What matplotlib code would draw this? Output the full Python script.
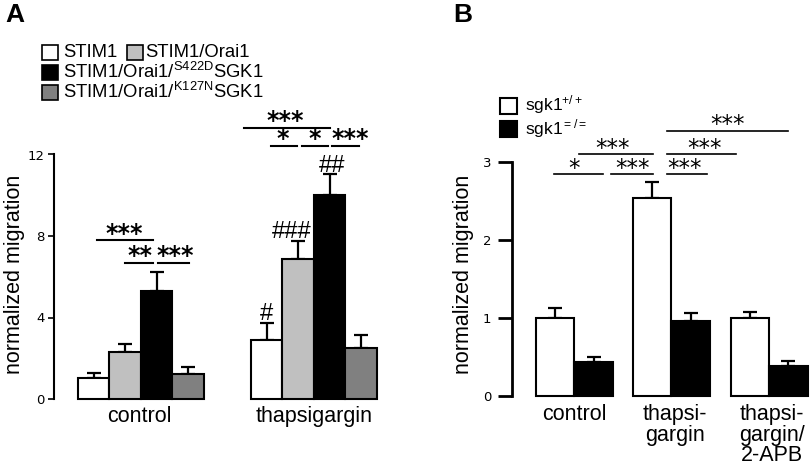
import matplotlib
matplotlib.use("Agg")
import matplotlib.pyplot as plt
import matplotlib.patches as patches
import numpy as np

plt.rcParams['font.family'] = ['Liberation Sans', 'DejaVu Sans']
plt.rcParams['mathtext.fontset'] = 'custom'
plt.rcParams['mathtext.rm'] = 'Liberation Sans'
plt.rcParams['mathtext.it'] = 'Liberation Sans'

# ---- datos panel A ----
grupos_a = ["control", "thapsigargin"]
series_a = ["STIM1", "STIM1/Orai1",
            "STIM1/Orai1/$^{\\mathrm{S422D}}$SGK1",
            "STIM1/Orai1/$^{\\mathrm{K127N}}$SGK1"]
colores_a = ["white", "#c0c0c0", "black", "#808080"]
media_control = [1.03, 2.32, 5.3, 1.22]
sem_control = [0.24, 0.38, 0.94, 0.36]
media_thapsi = [2.92, 6.86, 10.0, 2.49]
sem_thapsi = [0.82, 0.88, 1.06, 0.64]
hash_thapsi = ["#", "###", "##", ""]

# ---- datos panel B ----
grupos_b = ["control", "thapsi-\ngargin", "thapsi-\ngargin/\n2-APB"]
series_b = ["sgk1$^{+/+}$", "sgk1$^{=/=}$"]
media_wt = [1.0, 2.54, 1.0]
sem_wt = [0.13, 0.20, 0.08]
media_ko = [0.43, 0.96, 0.38]
sem_ko = [0.07, 0.10, 0.07]

W, H = 811, 465
fig = plt.figure(figsize=(W / 100, H / 100), dpi=100)


def px(x, y):
    # pixel (desde arriba) -> fraccion de figura
    return x / W, 1 - y / H


# ================= Panel A =================
axA = fig.add_axes([54 / W, (H - 399) / H, 346.5 / W, 244.5 / H])
inicio_a = [0.76, 6.25]
medias = [media_control, media_thapsi]
sems = [sem_control, sem_thapsi]
for g in range(2):
    xs = inicio_a[g] + 0.5 + np.arange(4)
    bars = axA.bar(xs, medias[g], width=1.0, color=colores_a,
                   edgecolor="black", linewidth=1.5, zorder=2)
    for b in bars:
        b.set_clip_on(False)
    axA.errorbar(xs, medias[g], yerr=[np.zeros(4), sems[g]], fmt="none",
                 ecolor="black", elinewidth=1.6, capsize=5, capthick=1.6,
                 zorder=1)

axA.set_xlim(0, 11)
axA.set_ylim(0, 12)
axA.set_yticks([0, 4, 8, 12])
axA.set_xticks([inicio_a[0] + 1.95, inicio_a[1] + 2])
axA.set_xticklabels(grupos_a, fontsize=15.5)
axA.tick_params(axis="x", length=0, pad=5)
axA.tick_params(axis="y", length=4, width=1.2, labelsize=9.5, pad=3)
for lab in axA.get_yticklabels():
    lab.set_fontfamily("DejaVu Sans")
for s in ["top", "right", "bottom"]:
    axA.spines[s].set_visible(False)
axA.spines["left"].set_linewidth(1.5)
axA.spines["left"].set_bounds(0, 12)
axA.set_ylabel("normalized migration", fontsize=15.5, va="center")
axA.yaxis.set_label_coords(-0.115, 0.51)

# hashes
hash_x = [6.76, 7.55, 8.83]
hash_y = [3.88, 7.9, 11.14]
for t, hx, hy in zip(hash_thapsi, hash_x, hash_y):
    axA.text(hx, hy, t, ha="center", va="baseline", fontsize=17,
             clip_on=False)

# significancias
sig_a = [(1.37, 3.14, 7.79, "***", 2.22),
         (2.25, 3.14, 6.69, "**", 2.73),
         (3.30, 4.29, 6.69, "***", 3.86),
         (6.03, 8.76, 13.32, "***", 7.33),
         (6.89, 7.71, 12.43, "*", 7.26),
         (7.87, 8.70, 12.43, "*", 8.29),
         (8.83, 9.68, 12.43, "***", 9.40)]
for x0, x1, y, t, tx in sig_a:
    axA.plot([x0, x1], [y, y], color="black", lw=1.5, clip_on=False)
    axA.annotate(t, xy=(tx, y), xytext=(0, -0.5), textcoords="offset points",
                 ha="center", va="baseline", fontsize=17, fontweight="bold",
                 fontfamily="DejaVu Sans", annotation_clip=False)

# leyenda A
ley_a = [(41.5, 45, 63, 57), (126.5, 45, 145, 57),
         (41.5, 65, 63, 78), (41.5, 85.5, 63, 98.5)]
for (sx, sy, tx, ty), col, nom in zip(ley_a, colores_a, series_a):
    x0, y0 = px(sx, sy + 15)
    fig.add_artist(patches.Rectangle((x0, y0), 16 / W, 15 / H,
                                     transform=fig.transFigure,
                                     facecolor=col, edgecolor="black",
                                     linewidth=1.2))
    fx, fy = px(tx, ty)
    fig.text(fx, fy, nom, fontsize=13.3, ha="left", va="baseline")

# ================= Panel B =================
axB = fig.add_axes([512 / W, (H - 396) / H, 298.4 / W, 234 / H])
inicio_b = [0.62, 3.14, 5.68]
xs_wt = np.array(inicio_b) + 0.5
xs_ko = np.array(inicio_b) + 1.5
for xs, m, e, col in [(xs_wt, media_wt, sem_wt, "white"),
                      (xs_ko, media_ko, sem_ko, "black")]:
    bars = axB.bar(xs, m, width=1.0, color=col, edgecolor="black",
                   linewidth=1.5, zorder=2)
    for b in bars:
        b.set_clip_on(False)
    axB.errorbar(xs, m, yerr=[np.zeros(3), e], fmt="none", ecolor="black",
                 elinewidth=1.6, capsize=5, capthick=1.6, zorder=1)

axB.set_xlim(0, 7.75)
axB.set_ylim(0, 3)
axB.set_yticks([0, 1, 2, 3])
axB.set_xticks([1.62, 4.24, 6.75])
axB.set_xticklabels(grupos_b, fontsize=15.5, linespacing=0.95)
axB.tick_params(axis="x", length=0, pad=6)
axB.tick_params(axis="y", length=10, width=2, labelsize=9.5, pad=5)
for lab in axB.get_yticklabels():
    lab.set_fontfamily("DejaVu Sans")
for s in ["top", "right", "bottom"]:
    axB.spines[s].set_visible(False)
axB.spines["left"].set_linewidth(2)
axB.spines["left"].set_bounds(0, 3)
axB.set_ylabel("normalized migration", fontsize=15.5, va="center")
axB.yaxis.set_label_coords(-0.164, 0.52)

sig_b = [(4.02, 7.18, 3.40, "***", 5.61),
         (1.74, 3.65, 3.10, "***", 2.62),
         (4.02, 5.81, 3.10, "***", 5.01),
         (1.09, 2.36, 2.84, "*", 1.61),
         (2.56, 3.65, 2.84, "***", 3.14),
         (4.02, 5.07, 2.84, "***", 4.49)]
for x0, x1, y, t, tx in sig_b:
    axB.plot([x0, x1], [y, y], color="black", lw=1.2, clip_on=False)
    axB.annotate(t, xy=(tx, y), xytext=(0, -0.5), textcoords="offset points",
                 ha="center", va="baseline", fontsize=16.5,
                 fontfamily="DejaVu Sans", annotation_clip=False)

# leyenda B
ley_b = [(499.5, 98, 525, 110), (499.5, 121, 525, 134)]
for (sx, sy, tx, ty), col, nom in zip(ley_b, ["white", "black"], series_b):
    x0, y0 = px(sx, sy + 16.5)
    fig.add_artist(patches.Rectangle((x0, y0), 17 / W, 16.5 / H,
                                     transform=fig.transFigure,
                                     facecolor=col, edgecolor="black",
                                     linewidth=1.5))
    fx, fy = px(tx, ty)
    fig.text(fx, fy, nom, fontsize=12.5, ha="left", va="baseline")

# letras de panel
fig.text(5 / W, 1 - 3 / H, "A", fontsize=19, fontweight="bold",
         ha="left", va="top")
fig.text(453 / W, 1 - 3 / H, "B", fontsize=19, fontweight="bold",
         ha="left", va="top")

plt.savefig("out.png", dpi=100)
